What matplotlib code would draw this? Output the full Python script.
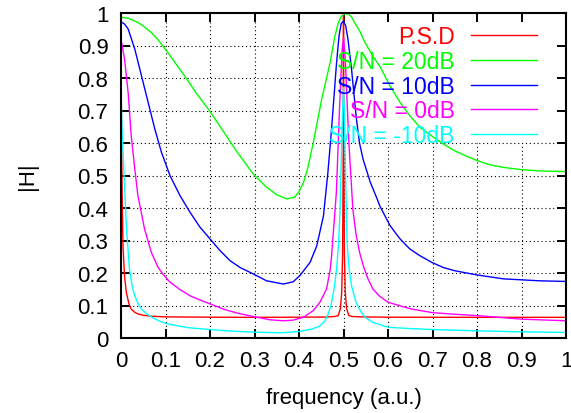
import matplotlib
matplotlib.use("Agg")
import matplotlib.pyplot as plt

plt.rcParams['font.family'] = ['Liberation Sans', 'DejaVu Sans']

# values
ticks = [0.0, 0.1, 0.2, 0.3, 0.4, 0.5, 0.6, 0.7, 0.8, 0.9, 1.0]
tick_labels = ['0', '0.1', '0.2', '0.3', '0.4', '0.5', '0.6', '0.7', '0.8', '0.9', '1']

psd_f = [0, 0.0012, 0.003, 0.0045, 0.008, 0.012, 0.018, 0.023, 0.03, 0.038, 0.05, 0.068,
         0.1, 0.2, 0.3, 0.4, 0.46, 0.48, 0.488, 0.493, 0.496, 0.498, 0.4995, 0.5,
         0.5005, 0.502, 0.504, 0.507, 0.512, 0.52, 0.54, 0.6, 0.7, 0.8, 0.9, 1.0]
psd_h = [1.0, 0.6, 0.4, 0.28, 0.19, 0.14, 0.105, 0.089, 0.08, 0.074, 0.07, 0.067,
         0.065, 0.064, 0.0636, 0.064, 0.0645, 0.066, 0.069, 0.09, 0.14, 0.26, 0.6, 1.0,
         0.6, 0.26, 0.14, 0.09, 0.069, 0.066, 0.065, 0.064, 0.0638, 0.0636, 0.0636, 0.0636]

sn20_f = [0, 0.02, 0.038, 0.05, 0.068, 0.085, 0.11, 0.14, 0.17, 0.2, 0.23, 0.26, 0.297,
          0.327, 0.35, 0.372, 0.39, 0.4, 0.41, 0.42, 0.432, 0.451, 0.47, 0.48, 0.488, 0.495,
          0.503, 0.51, 0.518, 0.525, 0.537, 0.548, 0.567, 0.582, 0.6045, 0.627, 0.649, 0.672,
          0.698, 0.724, 0.75, 0.777, 0.8, 0.829, 0.859, 0.9, 0.942, 1.0]
sn20_h = [0.988, 0.982, 0.971, 0.96, 0.94, 0.915, 0.869, 0.812, 0.752, 0.697, 0.636, 0.574, 0.505,
          0.464, 0.441, 0.428, 0.433, 0.45, 0.478, 0.525, 0.6, 0.735, 0.848, 0.925, 0.968, 0.99,
          0.997, 0.998, 0.988, 0.97, 0.943, 0.91, 0.865, 0.835, 0.776, 0.725, 0.684, 0.648,
          0.622, 0.597, 0.576, 0.559, 0.546, 0.533, 0.525, 0.518, 0.514, 0.512]

sn10_f = [0, 0.008, 0.016, 0.031, 0.046, 0.061, 0.076, 0.091, 0.11, 0.1326, 0.155, 0.1775,
          0.2, 0.2225, 0.245, 0.2674, 0.2974, 0.327, 0.3648, 0.387, 0.402, 0.425, 0.44,
          0.455, 0.465, 0.473, 0.484, 0.49, 0.495, 0.5, 0.505, 0.51, 0.518, 0.529, 0.536,
          0.544, 0.56, 0.575, 0.582, 0.6045, 0.627, 0.649, 0.672, 0.698, 0.724, 0.75,
          0.8, 0.859, 0.9, 0.94, 1.0]
sn10_h = [0.973, 0.966, 0.951, 0.889, 0.807, 0.725, 0.643, 0.571, 0.5, 0.438, 0.387, 0.341,
          0.305, 0.269, 0.238, 0.217, 0.197, 0.176, 0.166, 0.173, 0.192, 0.233, 0.284,
          0.376, 0.51, 0.64, 0.84, 0.93, 0.968, 0.975, 0.96, 0.92, 0.828, 0.674, 0.6,
          0.55, 0.48, 0.43, 0.405, 0.346, 0.305, 0.274, 0.253, 0.233, 0.217, 0.207,
          0.194, 0.182, 0.179, 0.176, 0.174]

sn0_f = [0, 0.008, 0.016, 0.023, 0.031, 0.038, 0.053, 0.068, 0.083, 0.095, 0.11, 0.1326,
         0.155, 0.1775, 0.2, 0.23, 0.26, 0.2974, 0.335, 0.365, 0.387, 0.41, 0.432, 0.447,
         0.462, 0.47, 0.473, 0.484, 0.491, 0.497, 0.5, 0.504, 0.508, 0.512, 0.521, 0.528,
         0.536, 0.545, 0.555, 0.566, 0.58, 0.6, 0.65, 0.7, 0.75, 0.8, 0.9, 1.0]
sn0_h = [0.92, 0.858, 0.756, 0.622, 0.52, 0.438, 0.335, 0.264, 0.218, 0.195, 0.172, 0.149,
         0.13, 0.117, 0.105, 0.089, 0.077, 0.066, 0.056, 0.053, 0.055, 0.064, 0.084, 0.11,
         0.151, 0.21, 0.25, 0.448, 0.705, 0.889, 0.925, 0.858, 0.73, 0.602, 0.397, 0.32,
         0.264, 0.22, 0.182, 0.151, 0.13, 0.11, 0.09, 0.078, 0.073, 0.069, 0.058, 0.053]

snm10_f = [0, 0.002, 0.007, 0.012, 0.019, 0.025, 0.031, 0.038, 0.046, 0.057, 0.068, 0.085,
           0.1, 0.125, 0.15, 0.2, 0.25, 0.3, 0.36, 0.4, 0.43, 0.447, 0.458, 0.465, 0.472,
           0.48, 0.485, 0.489, 0.492, 0.495, 0.498, 0.5, 0.502, 0.505, 0.508, 0.512, 0.518,
           0.528, 0.54, 0.55, 0.566, 0.6, 0.65, 0.7, 0.8, 0.9, 1.0]
snm10_h = [0.766, 0.653, 0.5, 0.346, 0.212, 0.16, 0.13, 0.107, 0.089, 0.075, 0.065, 0.053,
           0.045, 0.038, 0.032, 0.026, 0.021, 0.018, 0.016, 0.02, 0.028, 0.037, 0.052, 0.072, 0.1,
           0.161, 0.22, 0.294, 0.38, 0.55, 0.7, 0.77, 0.7, 0.48, 0.294, 0.22, 0.161,
           0.11, 0.079, 0.062, 0.048, 0.033, 0.029, 0.026, 0.022, 0.019, 0.017]

# grid is left out where the key sits
key_x0 = 0.4
key_y0 = 0.6

fig = plt.figure(figsize=(5.71, 4.14), dpi=100)
ax = fig.add_axes([121 / 571, 1 - 339 / 414, 445 / 571, 325 / 414])

grid_style = dict(colors='black', linestyles=(0, (1, 2.5)), linewidth=0.8, zorder=1)
for t in ticks[1:-1]:
    ax.hlines(t, 0, 1 if t <= key_y0 else key_x0, **grid_style)
    ax.vlines(t, 0, 1 if t <= key_x0 else key_y0, **grid_style)

lw = 1.0
ax.plot(psd_f, psd_h, color='#ff0000', lw=lw, label='P.S.D', zorder=3)
ax.plot(sn20_f, sn20_h, color='#00ff00', lw=lw, label='S/N = 20dB', zorder=3)
ax.plot(sn10_f, sn10_h, color='#0000ff', lw=lw, label='S/N = 10dB', zorder=3)
ax.plot(sn0_f, sn0_h, color='#ff00ff', lw=lw, label='S/N = 0dB', zorder=3)
ax.plot(snm10_f, snm10_h, color='#00ffff', lw=lw, label='S/N = -10dB', zorder=3)

ax.set_xlim(0, 1)
ax.set_ylim(0, 1)
ax.set_xticks(ticks)
ax.set_xticklabels(tick_labels)
ax.set_yticks(ticks)
ax.set_yticklabels(tick_labels)
ax.set_axisbelow(False)
ax.tick_params(direction='in', length=6.5, width=1.4, top=True, right=True,
               labelsize=16, pad=9, colors='black')
for s in ax.spines.values():
    s.set_linewidth(1.5)
    s.set_zorder(4)

ax.set_xlabel('frequency (a.u.)', fontsize=16)
ax.xaxis.set_label_coords(0.5, -0.15)
ax.set_ylabel('|H|', fontsize=16)
ax.yaxis.set_label_coords(-0.187, 0.5)

leg = ax.legend(loc='upper right', bbox_to_anchor=(0.935, 0.962), markerfirst=False,
                frameon=False, fontsize=16.5, handlelength=2.9, handletextpad=0.7,
                labelspacing=0.07, borderaxespad=0, borderpad=0)
for text, line in zip(leg.get_texts(), leg.get_lines()):
    text.set_color(line.get_color())

fig.savefig('out.png', dpi=100)
